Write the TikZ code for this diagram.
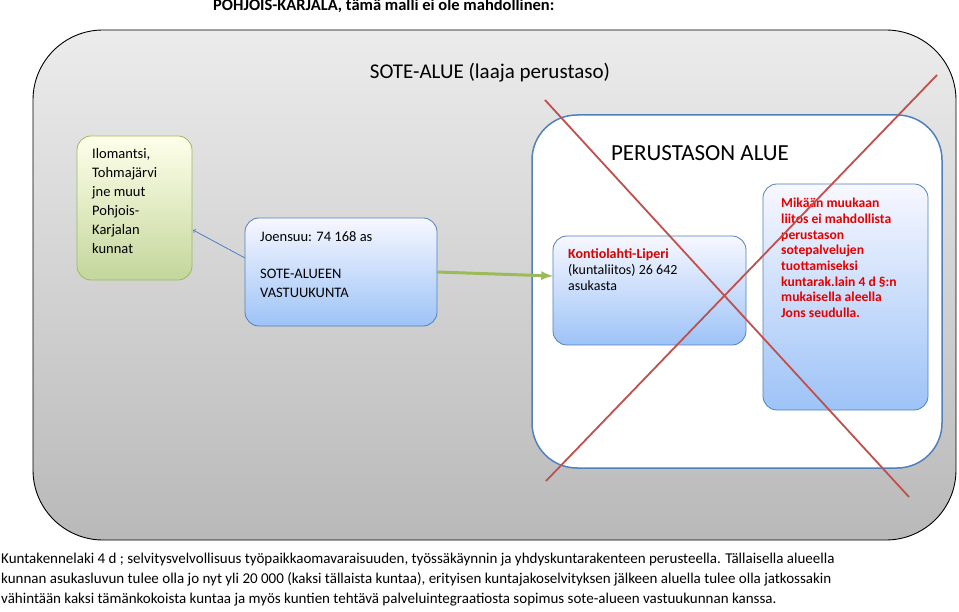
\documentclass[tikz,border=0pt]{standalone}
\usepackage{fontspec}
\setmainfont{Carlito}
\definecolor{steel}{HTML}{4F81BD}
\definecolor{xred}{HTML}{C0504D}
\definecolor{gbord}{HTML}{9BBB59}
\definecolor{lblue}{HTML}{9DC3F7}
\begin{document}
\begin{tikzpicture}[x=1pt,y=-1pt,
 bluebox/.style={draw=steel,line width=0.8pt,rounded corners=14pt,top color=blue!3,bottom color=lblue},
 lbl/.style={align=left,anchor=north west,inner sep=0pt,font=\fontsize{14.5}{19}\selectfont}]
\useasboundingbox (0,0) rectangle (959,612);
\node[font=\bfseries\fontsize{16.5}{18}\selectfont,anchor=north west,inner sep=0pt] (title) at (213,-1) {POHJOIS-KARJALA, tämä malli ei ole mahdollinen:};
\draw[line width=0.9pt,top color=gray!15,bottom color=gray!55,rounded corners=70pt] (33,30) -- (956,30) -- (956,540) -- (33,540) -- cycle;
\node[font=\fontsize{21}{24}\selectfont] (sote) at (490,73) {SOTE-ALUE (laaja perustaso)};
\draw[draw=steel,line width=1.5pt,fill=white,rounded corners=45pt] (532,115) rectangle (942,468);
\node[font=\fontsize{23}{26}\selectfont] (per) at (700,153) {PERUSTASON ALUE};
\draw[draw=gbord,line width=0.8pt,rounded corners=14pt,top color=yellow!8,bottom color=gbord!60] (77,136) rectangle (192,280);
\coordinate (gR) at (193,230);
\node[lbl] (g) at (92,148) {Ilomantsi,\\Tohmajärvi\\jne  muut\\Pohjois-\\Karjalan\\kunnat};
\draw[bluebox] (245,218) rectangle (437,326);
\node[lbl] (j) at (260,231) {Joensuu: 74 168 as\\[18pt]SOTE-ALUEEN\\VASTUUKUNTA};
\draw[bluebox] (553,236) rectangle (746,345);
\node[lbl,font=\fontsize{14}{16}\selectfont] (k) at (568,248) {\textcolor{red!85!black}{\bfseries Kontiolahti-Liperi}\\(kuntaliitos) 26 642\\asukasta};
\draw[bluebox] (763,184) rectangle (928,410);
\node[lbl,text=red!90!black,font=\bfseries\fontsize{13.6}{15.7}\selectfont] (m) at (781,198) {Mikään muukaan\\liitos  ei mahdollista\\perustason\\sotepalvelujen\\tuottamiseksi\\kuntarak.lain 4 d §:n\\mukaisella aleella\\Jons seudulla.};
\coordinate (jL) at (245,258);
\coordinate (jR) at (437,272);
\coordinate (kL) at (553,276);
\draw[->,draw=steel,line width=0.8pt] (jL) -- (gR);
\draw[-latex,draw=gbord,line width=3pt] (jR) -- (kL);
\coordinate (x1) at (545,100); \coordinate (x2) at (909,497);
\coordinate (x3) at (546,481); \coordinate (x4) at (937,75);
\draw[xred,line width=1.8pt] (x1) -- (x2) (x3) -- (x4);
\node[anchor=north west,inner sep=0pt,align=left,font=\fontsize{15}{20}\selectfont] (bt) at (1,553) {Kuntakennelaki  4 d ; selvitysvelvollisuus työpaikkaomavaraisuuden, työssäkäynnin ja yhdyskuntarakenteen perusteella.  Tällaisella alueella\\kunnan asukasluvun tulee olla jo nyt yli 20 000 (kaksi tällaista kuntaa), erityisen kuntajakoselvityksen jälkeen aluella tulee olla jatkossakin\\vähintään kaksi tämänkokoista kuntaa ja myös kuntien tehtävä palveluintegraatiosta sopimus sote-alueen vastuukunnan kanssa.};
\end{tikzpicture}
\end{document}
